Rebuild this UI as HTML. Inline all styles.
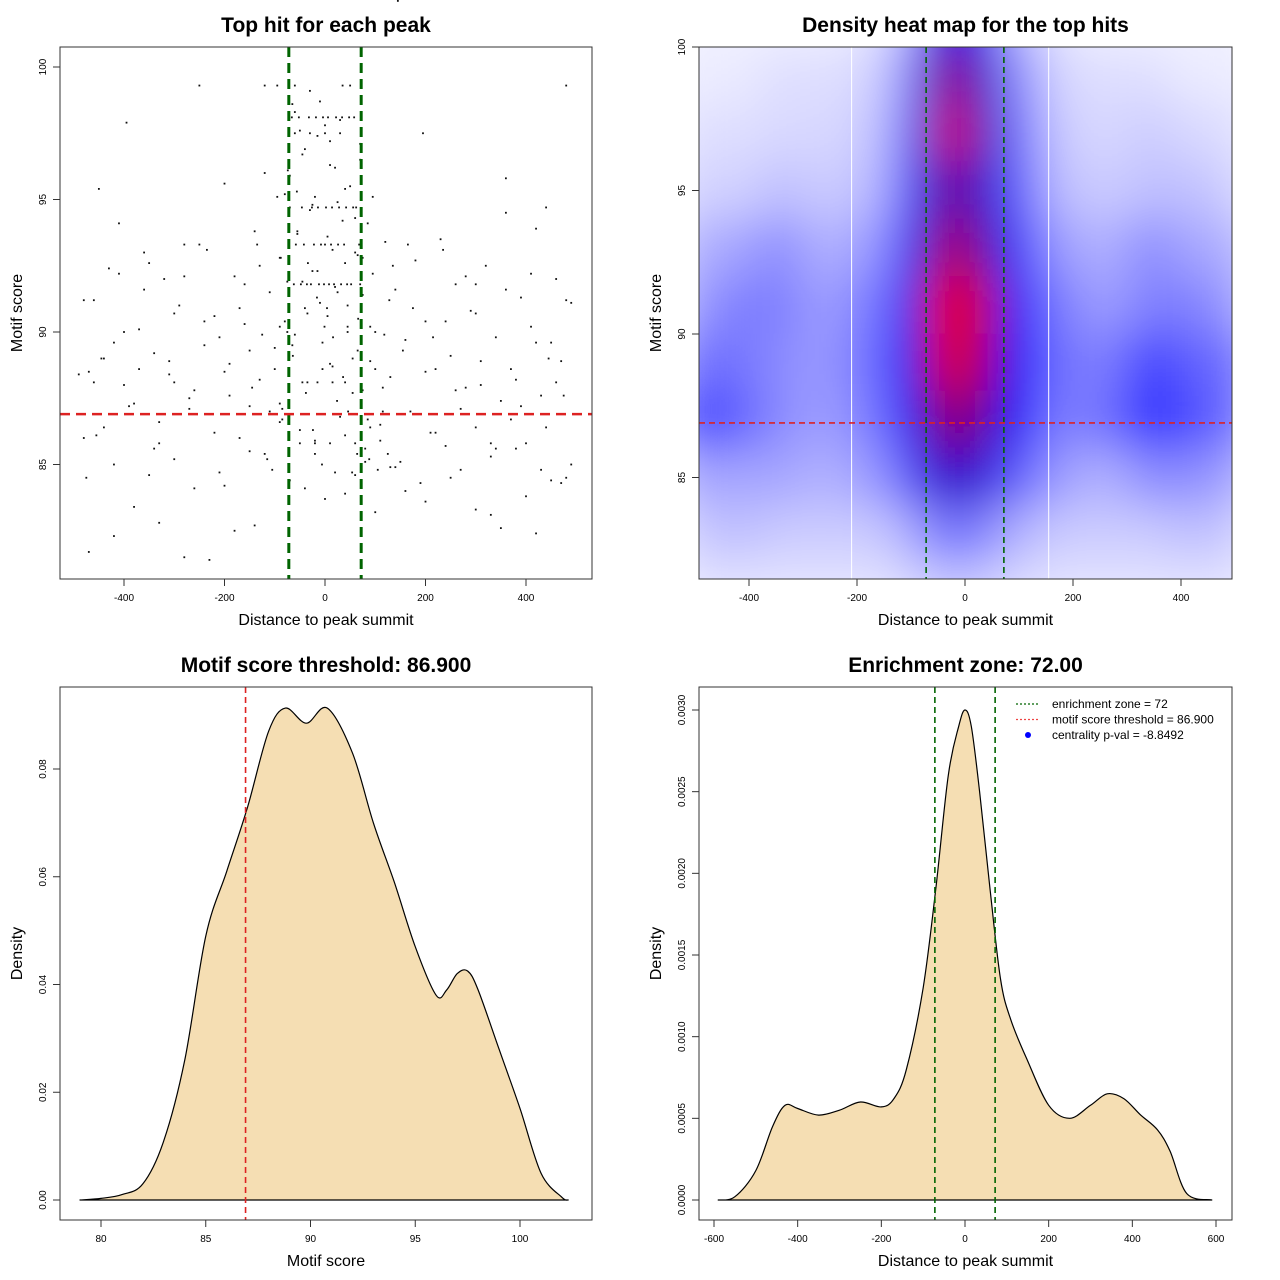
<!DOCTYPE html>
<html><head><meta charset="utf-8">
<style>
html,body{margin:0;padding:0;background:#fff;}
svg{display:block;font-family:"Liberation Sans",sans-serif;}
</style></head>
<body>
<svg id="root" width="1280" height="1280" viewBox="0 0 1280 1280" xmlns="http://www.w3.org/2000/svg">
<defs>
<filter id="blur" x="-20%" y="-20%" width="140%" height="140%"><feGaussianBlur stdDeviation="23"/></filter>
<clipPath id="clip2"><rect x="699" y="47" width="533" height="532"/></clipPath>
</defs>
<g id="p1"></g>
<g id="p2"></g>
<g id="p3"></g>
<g id="p4"></g>
</svg>
<script>
// ---- Panel 1 data (scatter)
const scatterX = [-470,-460,-455,-440,-430,-420,-410,-400,-395,-380,-370,-360,-350,-340,-330,-320,-310,-300,-290,-280,-270,-260,-250,-240,-230,-220,-210,-200,-190,-180,-170,-160,-150,-140,-130,-120,-110,-100,-95,-90,-85,-80,-75,-70,-65,-60,-55,-50,-45,-40,-35,-30,-25,-20,-15,-10,-5,0,5,10,15,20,25,30,35,40,45,50,55,60,65,70,75,80,85,90,95,100,110,120,130,140,150,160,170,180,190,200,210,220,230,240,250,260,270,280,290,300,310,320,330,340,350,360,370,380,390,400,410,420,430,440,450,460,470,480,490,-480,-450,-400,-350,-300,-250,-200,-150,-120,-90,-60,-40,-20,0,20,40,60,80,100,130,160,200,250,300,350,400,450,480,-60,-50,-30,-10,10,30,50,70,-70,-40,-20,0,20,40,60,-55,-25,5,35,65,-45,-15,15,45,-80,-35,25,55,-65,-5,75,90,-90,110,-110,140,-140,-470,-420,-380,-330,-280,-230,-180,330,380,430,470,490,-490,420,360,300,
-62,-48,-36,-28,-12,-2,8,18,32,44,52,68,-58,-42,-22,-8,12,26,38,58,-66,-52,-32,-18,-4,6,22,34,48,62,-70,-46,-26,-14,2,14,28,42,56,66,-64,-38,-24,-6,4,16,36,46,64,72,-74,-56,-34,-16,-1,10,24,40,54,70,-90,-100,-110,-120,-130,-150,-160,90,100,115,125,135,155,165,-85,-95,-105,-125,-135,85,95,105,118,128,-200,-220,-240,-260,-280,-310,-340,-360,-390,-420,-440,-460,-480,200,220,240,260,280,310,340,360,390,420,440,460,480,-210,-235,-270,-300,-330,-370,-410,-445,-475,215,235,270,300,330,370,410,445,475,-170,-190,175,195,-60,-30,0,30,60,-50,-20,10,40,-45,-15,15,45,-75,75,-88,88,-115,115,-145,145];
const scatterY = [88.5,91.2,86.1,89.0,92.4,85.0,94.1,88.0,97.9,87.3,90.1,93.0,84.6,89.2,86.6,92.0,88.4,85.2,91.0,93.3,87.5,84.1,99.3,89.5,86.9,90.6,84.7,95.6,88.8,92.1,86.0,90.3,85.5,93.8,88.2,96.0,91.5,89.4,99.3,92.8,87.1,95.2,91.9,84.4,98.6,89.9,93.7,86.3,96.7,90.9,88.1,94.6,92.3,85.9,97.4,91.1,89.6,93.3,90.6,96.3,88.7,91.7,94.9,86.8,99.3,92.6,90.2,95.5,87.7,93.0,89.3,97.1,91.4,85.6,94.1,88.9,92.2,90.0,86.5,93.4,88.3,91.6,85.1,89.7,87.0,92.7,84.3,90.4,86.2,88.6,93.5,85.7,89.1,91.8,84.8,87.9,90.8,86.4,88.0,92.5,85.3,89.8,87.4,94.5,86.7,88.2,91.3,85.8,90.2,93.9,87.6,94.7,89.6,92.0,88.9,91.2,85.0,86.0,95.4,90.0,92.6,88.1,93.3,84.2,87.2,99.3,86.6,99.3,84.1,85.4,83.7,84.7,83.9,84.6,85.1,83.2,84.9,84.0,83.6,84.5,83.3,82.6,83.8,84.4,99.3,98.3,97.6,99.1,98.7,97.2,98.0,99.3,96.5,95.9,96.9,95.1,97.8,96.2,95.4,94.3,93.8,94.8,93.6,94.2,92.9,91.9,92.3,93.1,91.0,90.4,90.7,91.5,89.0,89.5,88.6,87.8,86.4,87.3,85.9,86.9,84.9,82.7,81.7,82.3,83.4,82.8,81.5,81.4,82.5,83.1,85.6,84.8,84.3,91.1,88.4,82.4,95.8,
91.8,91.8,91.8,91.8,91.8,91.8,91.8,91.8,91.8,91.8,91.8,91.8,93.3,93.3,93.3,93.3,93.3,93.3,93.3,93.3,98.1,98.1,98.1,98.1,98.1,98.1,98.1,98.1,98.1,98.1,94.7,94.7,94.7,94.7,94.7,94.7,94.7,94.7,94.7,94.7,90.5,89.1,87.7,86.3,85.0,90.9,89.8,88.3,87.0,85.4,96.9,96.1,95.3,92.6,91.3,90.2,88.8,87.4,86.1,84.7,91.8,90.2,88.6,87.0,85.4,92.5,89.3,91.8,90.2,88.6,87.0,85.4,92.5,89.3,93.3,86.7,95.1,84.8,89.9,93.3,86.7,95.1,84.8,89.9,91.2,88.5,86.2,90.4,87.8,92.1,88.9,85.6,91.6,87.2,89.6,86.4,88.1,91.2,88.5,86.2,90.4,87.8,92.1,88.9,85.6,91.6,87.2,89.6,86.4,88.1,84.5,89.8,93.1,87.1,90.7,85.8,88.6,92.2,89.0,84.5,89.8,93.1,87.1,90.7,85.8,88.6,92.2,89.0,87.6,90.9,87.6,90.9,97.5,97.5,97.5,97.5,97.5,85.8,85.8,85.8,85.8,88.1,88.1,88.1,88.1,90.0,90.0,92.8,92.8,85.2,85.2,87.9,87.9];
// ---- Panel 2 data (heat map grid)
const heatCols = [-500,-420,-340,-260,-180,-100,-40,0,40,100,180,260,340,420,500];
const heatRows = [101,99,97,95,93,91,89,87,85,83,81];
const heatVals = [
[.02,.02,.02,.02,.03,.1,.4,.5,.4,.1,.03,.02,.02,.02,.02],
[.03,.03,.05,.05,.06,.18,.5,.75,.5,.18,.06,.05,.05,.03,.03],
[.05,.05,.06,.06,.08,.22,.55,.95,.55,.22,.08,.06,.08,.06,.05],
[.07,.07,.1,.08,.1,.25,.5,.65,.5,.25,.1,.08,.1,.1,.07],
[.12,.14,.18,.12,.15,.3,.58,.8,.58,.3,.15,.12,.18,.14,.12],
[.15,.2,.2,.15,.2,.35,.78,1,.78,.35,.2,.15,.2,.2,.15],
[.22,.22,.18,.16,.22,.38,.72,.95,.72,.38,.22,.2,.3,.25,.22],
[.3,.25,.18,.15,.2,.35,.6,.72,.6,.35,.2,.22,.33,.28,.22],
[.14,.14,.14,.12,.15,.25,.48,.52,.48,.25,.15,.12,.18,.18,.14],
[.08,.1,.08,.08,.08,.12,.2,.22,.2,.12,.08,.08,.08,.1,.08],
[.04,.04,.04,.04,.04,.05,.08,.08,.08,.05,.04,.04,.04,.04,.04]];
// ---- Panel 3 data
const scoreX = [79,80,81,82,83,84,85,86,87,88,88.8,89.8,90.8,92,93,94,95,96,96.5,97,97.5,98,99,100,101,102,102.3];
const scoreD = [0,0.0003,0.001,0.003,0.011,0.026,0.049,0.061,0.073,0.087,0.0913,0.0885,0.0913,0.083,0.07,0.059,0.047,0.038,0.039,0.042,0.0425,0.039,0.028,0.017,0.005,0.0005,0];
// ---- Panel 4 data
const distX = [-590,-550,-500,-460,-430,-400,-350,-300,-250,-200,-170,-140,-100,-70,-40,-15,0,15,35,60,85,110,150,200,250,300,340,380,420,460,490,530,590];
const distD = [0,0.00002,0.00018,0.00045,0.00058,0.00056,0.00052,0.00055,0.0006,0.00057,0.00062,0.0008,0.0013,0.0019,0.0026,0.0029,0.003,0.0029,0.0025,0.0019,0.00135,0.0011,0.00085,0.00058,0.0005,0.00058,0.00065,0.00062,0.00052,0.00043,0.0003,0.00004,0];

const NS="http://www.w3.org/2000/svg";
function mk(parent,tag,attrs,text){const e=document.createElementNS(NS,tag);for(const k in attrs)e.setAttribute(k,attrs[k]);if(text!==undefined)e.textContent=text;parent.appendChild(e);return e;}
function lin(d0,d1,r0,r1){return v=>r0+(v-d0)*(r1-r0)/(d1-d0);}
function smooth(P){let d=`M${P[0][0].toFixed(1)},${P[0][1].toFixed(1)}`;
  for(let i=0;i<P.length-1;i++){const p0=P[Math.max(0,i-1)],p1=P[i],p2=P[i+1],p3=P[Math.min(P.length-1,i+2)];
    const c1=[p1[0]+(p2[0]-p0[0])/6,p1[1]+(p2[1]-p0[1])/6],c2=[p2[0]-(p3[0]-p1[0])/6,p2[1]-(p3[1]-p1[1])/6];
    d+=` C${c1[0].toFixed(1)},${c1[1].toFixed(1)} ${c2[0].toFixed(1)},${c2[1].toFixed(1)} ${p2[0].toFixed(1)},${p2[1].toFixed(1)}`;}
  return d;}

function frame(g,x0,y0,x1,y1,title,xlab,ylab,xticks,xs,yticks,ys,fmtY){
  const b=mk(g,'rect',{x:x0,y:y0,width:x1-x0,height:y1-y0,fill:'none',stroke:'#333','stroke-width':1});
  
  
  const t=mk(g,'text',{x:(x0+x1)/2,y:y0-15,'text-anchor':'middle','font-size':21,'font-weight':'bold'},title);
  
  
  const xl=mk(g,'text',{x:(x0+x1)/2,y:y1+46,'text-anchor':'middle','font-size':16},xlab);
  
  
  const yl=mk(g,'text',{transform:`translate(${x0-38},${(y0+y1)/2}) rotate(-90)`,'text-anchor':'middle','font-size':16},ylab);
  
  
  const xa=mk(g,'g',{});
  
  
  mk(xa,'line',{x1:xs(xticks[0]),x2:xs(xticks[xticks.length-1]),y1:y1,y2:y1,stroke:'#333'});
  xticks.forEach(v=>{mk(xa,'line',{x1:xs(v),x2:xs(v),y1:y1,y2:y1+7,stroke:'#333'});
    const tl=mk(xa,'text',{x:xs(v),y:y1+22,'text-anchor':'middle','font-size':10},String(v));
    
    });
  const ya=mk(g,'g',{});
  
  
  mk(ya,'line',{x1:x0,x2:x0,y1:ys(yticks[0]),y2:ys(yticks[yticks.length-1]),stroke:'#333'});
  yticks.forEach(v=>{mk(ya,'line',{x1:x0-7,x2:x0,y1:ys(v),y2:ys(v),stroke:'#333'});
    const tl=mk(ya,'text',{transform:`translate(${x0-14},${ys(v)}) rotate(-90)`,'text-anchor':'middle','font-size':10},fmtY(v));
    
    });
}
function vline(g,x,y0,y1,col,w,dash,name){const l=mk(g,'line',{x1:x,x2:x,y1:y0,y2:y1,stroke:col,'stroke-width':w,'stroke-dasharray':dash});
  
  }
function hline(g,y,x0,x1,col,w,dash,name){const l=mk(g,'line',{x1:x0,x2:x1,y1:y,y2:y,stroke:col,'stroke-width':w,'stroke-dasharray':dash});
  
  }

// Panel 1
(function(){
  const g=document.getElementById('p1');
  const xs=lin(0,400,325,526), ys=lin(90,100,332,67);
  const pts=mk(g,'g',{});
  
  
  scatterX.forEach((x,i)=>{const r=mk(pts,'rect',{x:xs(x)-0.9,y:ys(scatterY[i])-0.9,width:1.8,height:1.8,fill:'#111'});
    
    });
  vline(g,xs(-72),47,579,'#006400',3,'10,6','enrichment-zone-left');
  vline(g,xs(72),47,579,'#006400',3,'10,6','enrichment-zone-right');
  hline(g,ys(86.9),60,592,'#dd2222',2.5,'10,6','score-threshold-line');
  frame(g,60,47,592,579,'Top hit for each peak','Distance to peak summit','Motif score',[-400,-200,0,200,400],xs,[85,90,95,100],ys,v=>String(v));
})();

// Panel 2
(function(){
  const g=document.getElementById('p2');
  const xs=lin(0,400,965,1181), ys=lin(90,100,334,47);
  function col(v){let r,gg,b;if(v<0.4){const t=v/0.4;r=255*(1-t);gg=255*(1-t);b=255;}else{const t=Math.min(1,(v-0.4)/0.5);r=255*t;gg=0;b=255*(1-t);}return `rgb(${r|0},${gg|0},${b|0})`;}
  mk(g,'rect',{x:699,y:47,width:533,height:532,fill:'#fff'});
  const cl=mk(g,'g',{'clip-path':'url(#clip2)'});
  const hm=mk(cl,'g',{filter:'url(#blur)'});
  
  
  const dx=80, dy=2;
  heatRows.forEach((yv,ri)=>heatCols.forEach((xv,ci)=>{
    const x0=xs(xv-dx/2), x1=xs(xv+dx/2), y0=ys(yv+dy/2), y1=ys(yv-dy/2);
    const c=mk(hm,'rect',{x:x0-0.5,y:y0-0.5,width:x1-x0+1,height:y1-y0+1,fill:col(heatVals[ri][ci])});
    
    }));
  vline(cl,xs(-210),47,579,'#fff',1,'none','grid-line-left');
  vline(cl,xs(155),47,579,'#fff',1,'none','grid-line-right');
  vline(g,xs(-72),47,579,'#006400',1.6,'6,4','enrichment-zone-left');
  vline(g,xs(72),47,579,'#006400',1.6,'6,4','enrichment-zone-right');
  hline(g,ys(86.9),699,1232,'#dd2222',1.6,'6,4','score-threshold-line');
  frame(g,699,47,1232,579,'Density heat map for the top hits','Distance to peak summit','Motif score',[-400,-200,0,200,400],xs,[85,90,95,100],ys,v=>String(v));
})();

// Panel 3
(function(){
  const g=document.getElementById('p3');
  const xs=lin(80,100,101,520), ys=lin(0,0.08,1200,769);
  const d=smooth(scoreX.map((x,i)=>[xs(x),ys(scoreD[i])]));
  const a=mk(g,'path',{d:d+' Z',fill:'#f5deb3',stroke:'#000','stroke-width':1.2,'stroke-linejoin':'round'});
  
  
  vline(g,xs(86.9),687,1220,'#dd2222',1.6,'6,4','score-threshold-line');
  frame(g,60,687,592,1220,'Motif score threshold: 86.900','Motif score','Density',[80,85,90,95,100],xs,[0,0.02,0.04,0.06,0.08],ys,v=>v.toFixed(2));
})();

// Panel 4
(function(){
  const g=document.getElementById('p4');
  const xs=lin(0,600,965,1216), ys=lin(0,0.003,1200,710);
  const d=smooth(distX.map((x,i)=>[xs(x),ys(distD[i])]));
  const a=mk(g,'path',{d:d+' Z',fill:'#f5deb3',stroke:'#000','stroke-width':1.2,'stroke-linejoin':'round'});
  
  
  vline(g,xs(-72),687,1220,'#006400',1.6,'6,4','enrichment-zone-left');
  vline(g,xs(72),687,1220,'#006400',1.6,'6,4','enrichment-zone-right');
  frame(g,699,687,1232,1220,'Enrichment zone: 72.00','Distance to peak summit','Density',[-600,-400,-200,0,200,400,600],xs,[0,0.0005,0.001,0.0015,0.002,0.0025,0.003],ys,v=>v.toFixed(4));
  const lg=mk(g,'g',{});
  
  
  const items=[['enrichment zone = 72','#006400','line'],['motif score threshold = 86.900','#ee4444','line'],['centrality p-val = -8.8492','#0000ff','dot']];
  items.forEach((it,i)=>{const y=704+i*15.5;
    const e=mk(lg,'g',{});
    
    
    if(it[2]==='line')mk(e,'line',{x1:1016,x2:1040,y1:y,y2:y,stroke:it[1],'stroke-width':1.2,'stroke-dasharray':'2,2'});
    else mk(e,'circle',{cx:1028,cy:y,r:3,fill:it[1]});
    mk(e,'text',{x:1052,y:y+4,'font-size':12},it[0]);});
})();
</script>
</body></html>
